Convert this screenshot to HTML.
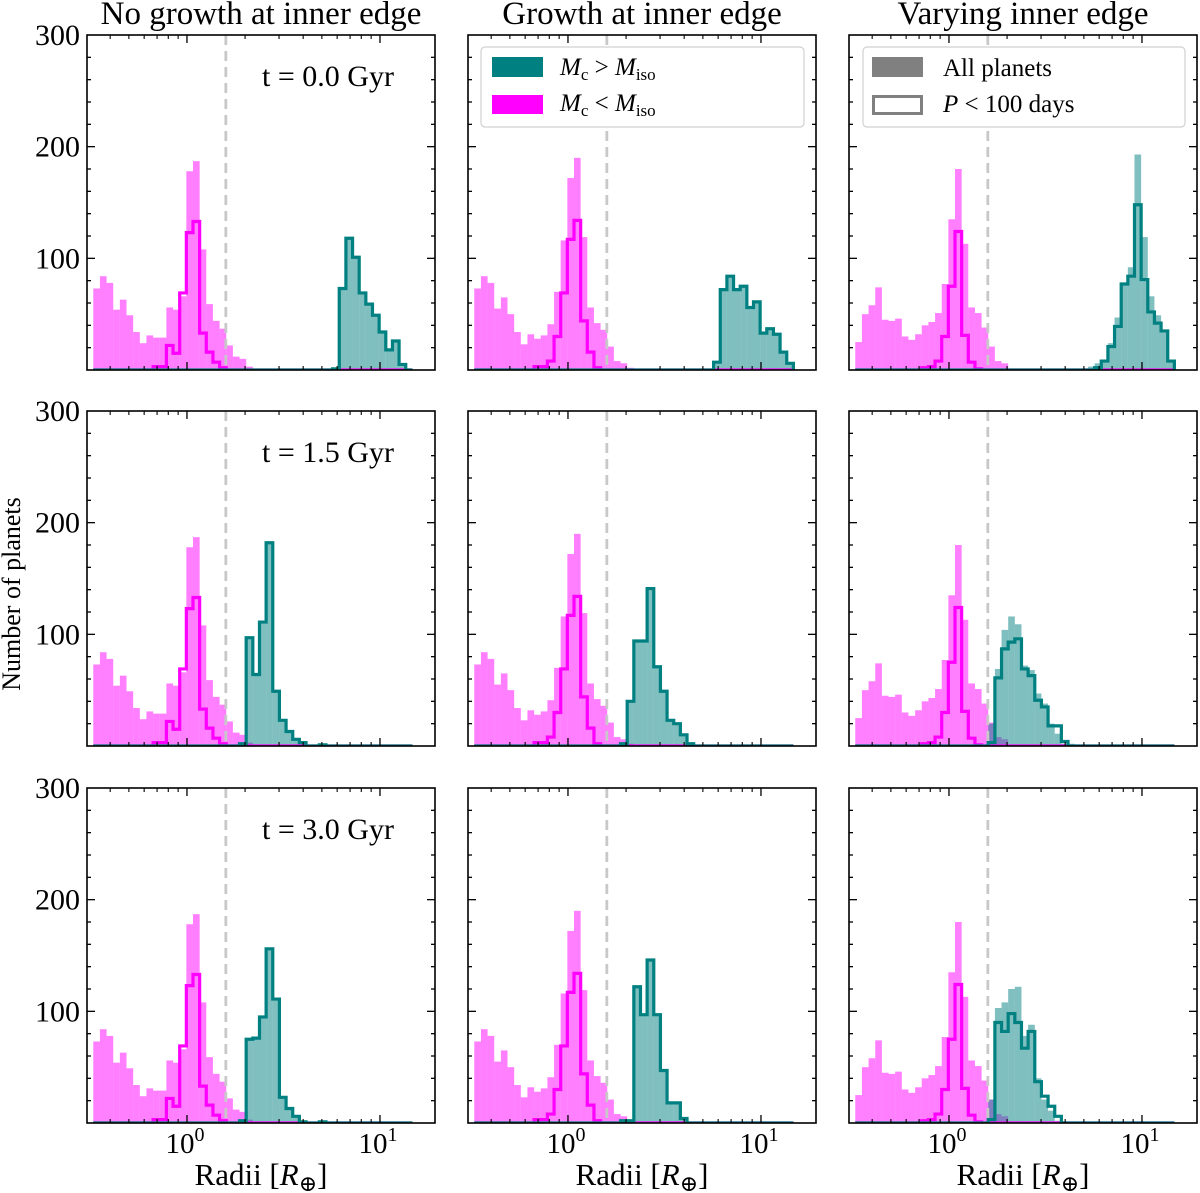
<!DOCTYPE html>
<html><head><meta charset="utf-8"><style>
body{margin:0;background:#fff}
svg{display:block;font-family:"Liberation Serif","DejaVu Serif",serif}
</style></head><body>
<svg id="fig" width="1200" height="1193" viewBox="0 0 1200 1193" xmlns="http://www.w3.org/2000/svg"></svg>
<script>
// ---- data ----
const binLo = 0.327, binHi = 14.72, nBins = 48;
const dividerRadius = 1.59;
const colTitles = ["No growth at inner edge","Growth at inner edge","Varying inner edge"];
const rowTimes = ["t = 0.0 Gyr","t = 1.5 Gyr","t = 3.0 Gyr"];
const yTicks = [100,200,300];
const yTickLabels = ["100","200","300"];
const xMajor = [1,10];
const xMajorExp = ["0","1"];
const xMinor = [0.4,0.5,0.6,0.7,0.8,0.9,2,3,4,5,6,7,8,9];

function pad(start, vals){const a=new Array(nBins).fill(0);vals.forEach((v,i)=>{if(start+i<nBins)a[start+i]=v;});return a;}

// pink (Mc < Miso), per column — all planets / P<100 days
const pinkAllNoGrowth = pad(0,[73,84,78,54,63,49,34,24,31,29,29,56,54,66,178,187,108,59,44,37,22,12,10,3,1,1]);
const pinkP100NoGrowth = pad(9,[3,3,22,15,69,123,133,33,16,7,2]);
const pinkAllGrowth = pad(0,[73,84,78,55,65,50,34,23,32,28,31,41,70,116,172,190,119,56,42,36,21,8,6,2]);
const pinkP100Growth = pad(9,[3,3,8,30,69,117,134,44,16,2]);
const pinkAllVarying = pad(0,[25,50,58,74,45,44,46,30,27,32,40,43,51,77,135,180,113,56,51,38,21,8,6,1]);
const pinkP100Varying = pad(10,[2,3,8,30,75,124,31,7,1]);

// teal (Mc > Miso), per column & row
const tealAllNoGrowthT0 = pad(36,[1,73,118,101,69,59,49,34,18,26,5]);
const tealP100NoGrowthT0 = pad(36,[1,73,118,101,69,59,49,34,18,26,5]);
const tealAllNoGrowthT1 = pad(22,[2,97,64,111,182,49,23,13,6,3,0,0,1]);
const tealP100NoGrowthT1 = pad(22,[2,97,64,111,182,49,23,13,6,3,0,0,1]);
const tealAllNoGrowthT2 = pad(22,[2,75,76,95,156,111,23,13,6,1,0,0,1]);
const tealP100NoGrowthT2 = pad(22,[2,75,76,95,156,111,23,13,6,1,0,0,1]);
const tealAllGrowthT0 = pad(36,[7,72,84,72,75,56,61,33,37,32,16,6]);
const tealP100GrowthT0 = pad(36,[7,72,84,72,75,56,61,33,37,32,16,6]);
const tealAllGrowthT1 = pad(22,[2,40,94,94,141,71,49,23,20,10,2]);
const tealP100GrowthT1 = pad(22,[2,40,94,94,141,71,49,23,20,10,2]);
const tealAllGrowthT2 = pad(22,[2,2,122,97,146,97,47,18,18,4]);
const tealP100GrowthT2 = pad(22,[2,2,122,97,146,97,47,18,18,4]);
const tealAllVaryingT0 = pad(35,[3,6,8,24,47,78,92,193,119,66,49,36,8]);
const tealP100VaryingT0 = pad(36,[2,8,21,39,77,84,148,81,52,42,35,8]);
const tealAllVaryingT1 = pad(20,[20,69,104,116,109,72,68,47,38,20,11,2,2]);
const tealP100VaryingT1 = pad(20,[3,61,87,93,96,69,63,41,35,18,18,4]);
const tealAllVaryingT2 = pad(20,[21,103,108,120,122,78,88,40,21,11,2]);
const tealP100VaryingT2 = pad(20,[3,90,82,98,90,67,82,37,24,15,6]);

const pinkAll=[pinkAllNoGrowth,pinkAllGrowth,pinkAllVarying];
const pinkP100=[pinkP100NoGrowth,pinkP100Growth,pinkP100Varying];
const tealAll=[[tealAllNoGrowthT0,tealAllNoGrowthT1,tealAllNoGrowthT2],[tealAllGrowthT0,tealAllGrowthT1,tealAllGrowthT2],[tealAllVaryingT0,tealAllVaryingT1,tealAllVaryingT2]];
const tealP100=[[tealP100NoGrowthT0,tealP100NoGrowthT1,tealP100NoGrowthT2],[tealP100GrowthT0,tealP100GrowthT1,tealP100GrowthT2],[tealP100VaryingT0,tealP100VaryingT1,tealP100VaryingT2]];

// ---- layout ----
const NS="http://www.w3.org/2000/svg";
const svg=document.getElementById('fig');
const colX=[87,468,849], rowY=[35,411,788], PW=348, PH=335;
const lmin=-0.518, lmax=-0.518+348/193, ymax=300;
function mk(tag,attrs,parent){const e=document.createElementNS(NS,tag);for(const k in attrs)e.setAttribute(k,attrs[k]);(parent||svg).appendChild(e);return e;}
const edges=[];for(let i=0;i<=nBins;i++)edges.push(Math.log10(binLo)+i*(Math.log10(binHi)-Math.log10(binLo))/nBins);

for(let c=0;c<3;c++){
  const t=mk('text',{x:colX[c]+PW/2,y:24,'text-anchor':'middle','font-size':33});
  t.textContent=colTitles[c];
  
  
  for(let r=0;r<3;r++){
    const L=colX[c],T=rowY[r],B=T+PH;
    const xs=lv=>L+(lv-lmin)/(lmax-lmin)*PW;
    const ys=v=>B-v/ymax*PH;
    const g=mk('g',{});
    
    
    const clip=mk('clipPath',{id:'cl'+c+r},g);mk('rect',{x:L,y:T,width:PW,height:PH},clip);
    const pg=mk('g',{'clip-path':'url(#cl'+c+r+')'},g);
    const drawBars=(arr,fill,name)=>{arr.forEach((v,i)=>{if(v<=0)return;const x0=xs(edges[i]),x1=xs(edges[i+1]);
      const b=mk('rect',{x:x0,y:ys(v),width:x1-x0,height:B-ys(v),fill:fill},pg);
      
      });};
    drawBars(pinkAll[c],'rgba(255,0,255,0.5)','pink-all-planets');
    drawBars(tealAll[c][r],'rgba(0,128,128,0.5)','teal-all-planets');
    const step=(arr,col,name)=>{let d='M'+xs(edges[0])+','+B;arr.forEach((v,i)=>{d+=' L'+xs(edges[i])+','+ys(v)+' L'+xs(edges[i+1])+','+ys(v);});d+=' L'+xs(edges[nBins])+','+B;
      const p=mk('path',{d:d,fill:'none',stroke:col,'stroke-width':3.2,'stroke-linejoin':'miter'},pg);
      
      };
    step(pinkP100[c],'#ff00ff','pink-p100');
    step(tealP100[c][r],'#008080','teal-p100');
    const dl=mk('line',{x1:xs(Math.log10(dividerRadius)),x2:xs(Math.log10(dividerRadius)),y1:T,y2:B,stroke:'#c8c8c8','stroke-width':2.8,'stroke-dasharray':'10,6'},g);
    
    
    for(let v=20;v<300;v+=20){const len=(v%100===0)?8:4;
      mk('line',{x1:L,x2:L+len,y1:ys(v),y2:ys(v),stroke:'#000','stroke-width':1.3},g);
      mk('line',{x1:L+PW,x2:L+PW-len,y1:ys(v),y2:ys(v),stroke:'#000','stroke-width':1.3},g);}
    xMajor.forEach(m=>{const x=xs(Math.log10(m));mk('line',{x1:x,x2:x,y1:B,y2:B-8,stroke:'#000','stroke-width':1.3},g);mk('line',{x1:x,x2:x,y1:T,y2:T+8,stroke:'#000','stroke-width':1.3},g);});
    xMinor.forEach(m=>{const x=xs(Math.log10(m));mk('line',{x1:x,x2:x,y1:B,y2:B-4,stroke:'#000','stroke-width':1.1},g);mk('line',{x1:x,x2:x,y1:T,y2:T+4,stroke:'#000','stroke-width':1.1},g);});
    const fr=mk('rect',{x:L,y:T,width:PW,height:PH,fill:'none',stroke:'#000','stroke-width':1.6},g);
    
    
    if(c===0){
      yTicks.forEach((v,i)=>{const tl=mk('text',{x:L-7,y:ys(v)+10,'text-anchor':'end','font-size':30});tl.textContent=yTickLabels[i];
        
        });
      const tt=mk('text',{x:L+241,y:T+51,'text-anchor':'middle','font-size':30});tt.textContent=rowTimes[r];
      
      
    }
    if(r===2){
      xMajor.forEach((m,i)=>{const x=xs(Math.log10(m));const tl=mk('text',{x:x-2,y:B+30,'text-anchor':'middle','font-size':29});
        tl.textContent='10';const s=mk('tspan',{dy:-12,'font-size':20},tl);s.textContent=xMajorExp[i];
        
        });
      const xl=mk('text',{x:L+PW/2,y:1185,'text-anchor':'middle','font-size':31});
      xl.innerHTML='Radii [<tspan font-style="italic">R</tspan><tspan font-size="22" dy="6">⊕</tspan><tspan dy="-6">]</tspan>';
      
      
    }
  }
}
const yl=mk('text',{x:0,y:0,'text-anchor':'middle','font-size':26,transform:'translate(20,594) rotate(-90)'});
yl.textContent='Number of planets';



const lg1=mk('g',{});


mk('rect',{x:481,y:47,width:323,height:80,rx:4,fill:'#fff',stroke:'#d0d0d0','stroke-width':1.2},lg1);
mk('rect',{x:492,y:57,width:51,height:20,fill:'#008080'},lg1);
mk('rect',{x:492,y:95,width:51,height:19,fill:'#ff00ff'},lg1);
const e1=mk('text',{x:560,y:75,'font-size':25},lg1);
e1.innerHTML='<tspan font-style="italic">M</tspan><tspan font-size="17" dy="5">c</tspan><tspan dy="-5"> &gt; </tspan><tspan font-style="italic">M</tspan><tspan font-size="17" dy="5">iso</tspan>';


const e2=mk('text',{x:560,y:111,'font-size':25},lg1);
e2.innerHTML='<tspan font-style="italic">M</tspan><tspan font-size="17" dy="5">c</tspan><tspan dy="-5"> &lt; </tspan><tspan font-style="italic">M</tspan><tspan font-size="17" dy="5">iso</tspan>';



const lg2=mk('g',{});


mk('rect',{x:863,y:47,width:322,height:80,rx:4,fill:'#fff',stroke:'#d0d0d0','stroke-width':1.2},lg2);
mk('rect',{x:872,y:57,width:51,height:20,fill:'#808080'},lg2);
mk('rect',{x:873.5,y:96.5,width:48,height:17,fill:'none',stroke:'#808080','stroke-width':3},lg2);
const e3=mk('text',{x:943,y:76,'font-size':25},lg2);e3.textContent='All planets';


const e4=mk('text',{x:943,y:112,'font-size':25},lg2);
e4.innerHTML='<tspan font-style="italic">P</tspan> &lt; 100 days';


</script>
</body></html>
